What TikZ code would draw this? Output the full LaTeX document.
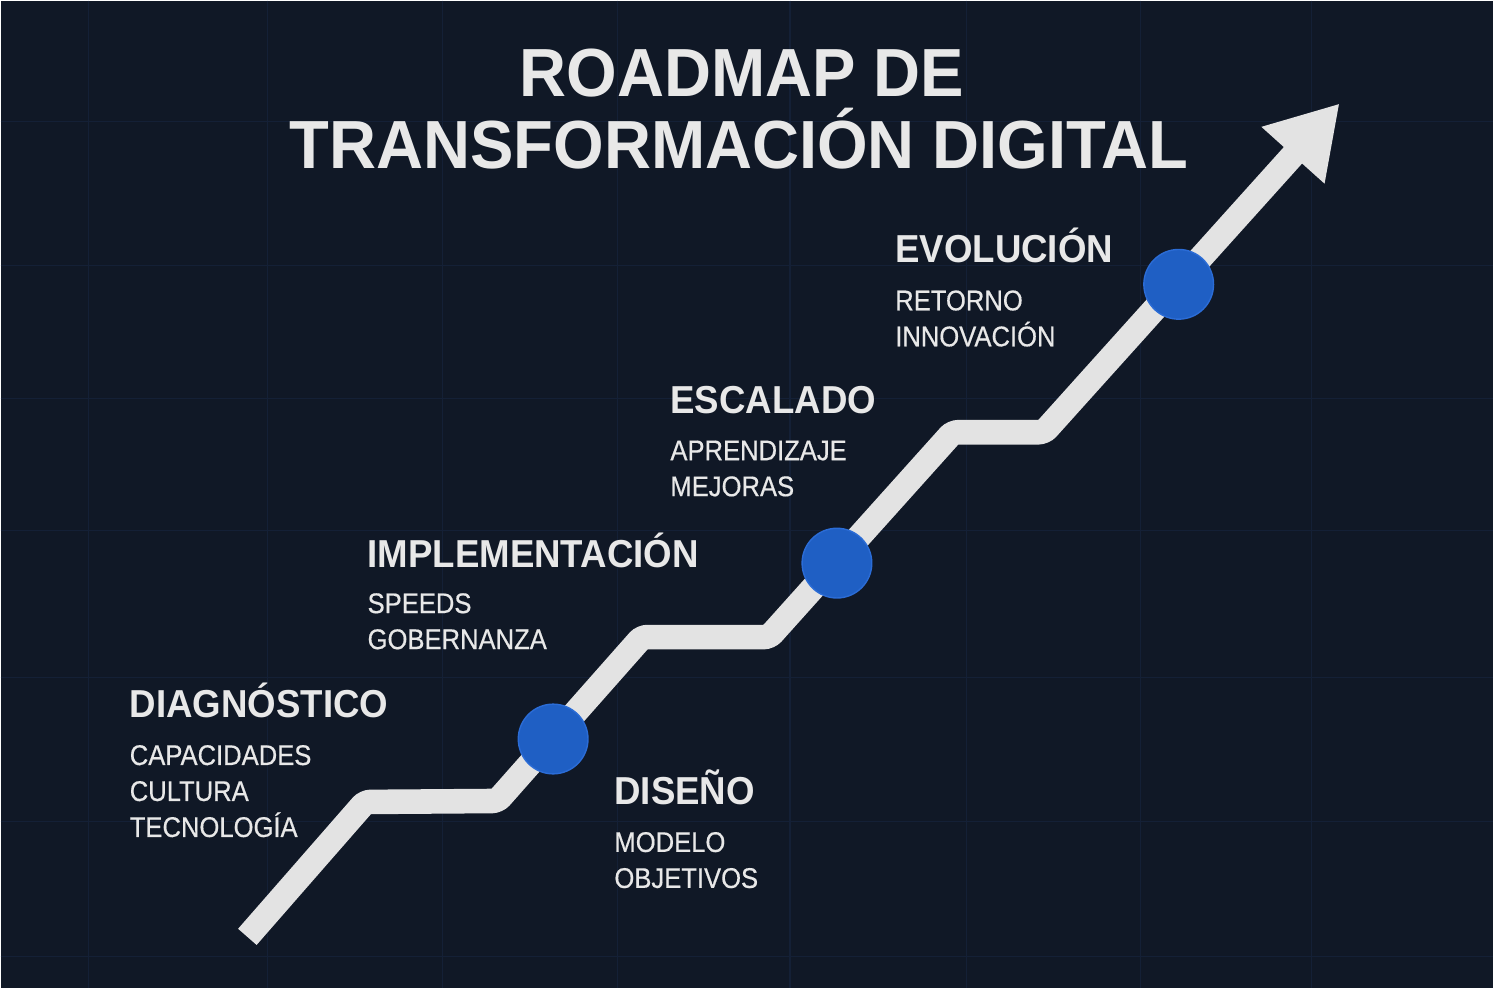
\documentclass[tikz,border=0pt]{standalone}
\usepackage{fontspec}
\newfontfamily\titlefont{Liberation Sans}[FakeStretch=0.955]
\newfontfamily\headfont{Liberation Sans}[FakeStretch=0.94]
\newfontfamily\itemfont{Liberation Sans}[FakeStretch=0.90, FakeBold=0.5]
\usetikzlibrary{arrows.meta}

\definecolor{bgnavy}{HTML}{101826}
\definecolor{gridblue}{HTML}{142036}
\definecolor{roadgray}{HTML}{E3E3E3}
\definecolor{dotblue}{HTML}{1F5FC4}
\definecolor{dotrim}{HTML}{2B6CD6}
\definecolor{textwhite}{HTML}{E8E8E8}

\begin{document}
\begin{tikzpicture}[x=0.02cm,y=-0.02cm,
    stagehead/.style={anchor=base west, inner sep=0pt, text=textwhite,
        font=\headfont\bfseries\fontsize{22.2}{26}\selectfont},
    stageitem/.style={anchor=base west, inner sep=0pt, text=textwhite,
        font=\itemfont\fontsize{16.2}{20}\selectfont},
    milestone/.style={circle, fill=dotblue, draw=dotrim, line width=0.8pt,
        minimum size=39.7pt, inner sep=0pt}]

    % background and grid
    \fill[bgnavy] (0,0) rectangle (1494,988);
    \foreach \x in {88,267,442,617,790,967,1141,1312}
        \draw[gridblue, line width=0.6pt] (\x,0) -- (\x,988);
    \foreach \y in {121,265,398,530,677,822,957}
        \draw[gridblue, line width=0.6pt] (0,\y) -- (1494,\y);

    % title
    \node[anchor=base, inner sep=0pt, text=textwhite,
        font=\titlefont\bfseries\fontsize{38.8}{44}\selectfont] (title1) at (742,96) {ROADMAP DE};
    \node[anchor=base, inner sep=0pt, text=textwhite,
        font=\titlefont\bfseries\fontsize{38.8}{44}\selectfont] (title2) at (739,168) {TRANSFORMACIÓN DIGITAL};

    % road
    \coordinate (r0) at (247,937);
    \coordinate (r1) at (365,802);
    \coordinate (r2) at (497,801);
    \coordinate (r3) at (642,637);
    \coordinate (r4) at (769,637);
    \coordinate (r5) at (953,432);
    \coordinate (r6) at (1044,432);
    \coordinate (tip) at (1340,103);

    \draw[roadgray, line width=14pt, rounded corners=3pt,
        -{Triangle[length=39.7pt, width=45.4pt]}]
        (r0) -- (r1) -- (r2) -- (r3) -- (r4) -- (r5) -- (r6) -- (tip);

    % milestones
    \node[milestone] (m1) at (553,739) {};
    \node[milestone] (m2) at (837,563) {};
    \node[milestone] (m3) at (1179,284) {};

    % stages
    \node[stagehead] (diag) at (129,717) {DIAGNÓSTICO};
    \foreach \txt [count=\i] in {CAPACIDADES, CULTURA, TECNOLOGÍA}
        \node[stageitem] (diag-\i) at (129,729+36*\i) {\txt};

    \node[stagehead] (dise) at (614,805) {DISEÑO};
    \foreach \txt [count=\i] in {MODELO, OBJETIVOS}
        \node[stageitem] (dise-\i) at (614,816+36*\i) {\txt};

    \node[stagehead] (impl) at (367,567) {IMPLEMENTACIÓN};
    \foreach \txt [count=\i] in {SPEEDS, GOBERNANZA}
        \node[stageitem] (impl-\i) at (367,577+36*\i) {\txt};

    \node[stagehead] (esca) at (670,413) {ESCALADO};
    \foreach \txt [count=\i] in {APRENDIZAJE, MEJORAS}
        \node[stageitem] (esca-\i) at (670,424+36*\i) {\txt};

    \node[stagehead] (evol) at (895,262) {EVOLUCIÓN};
    \foreach \txt [count=\i] in {RETORNO, INNOVACIÓN}
        \node[stageitem] (evol-\i) at (895,274+36*\i) {\txt};

\end{tikzpicture}
\end{document}
